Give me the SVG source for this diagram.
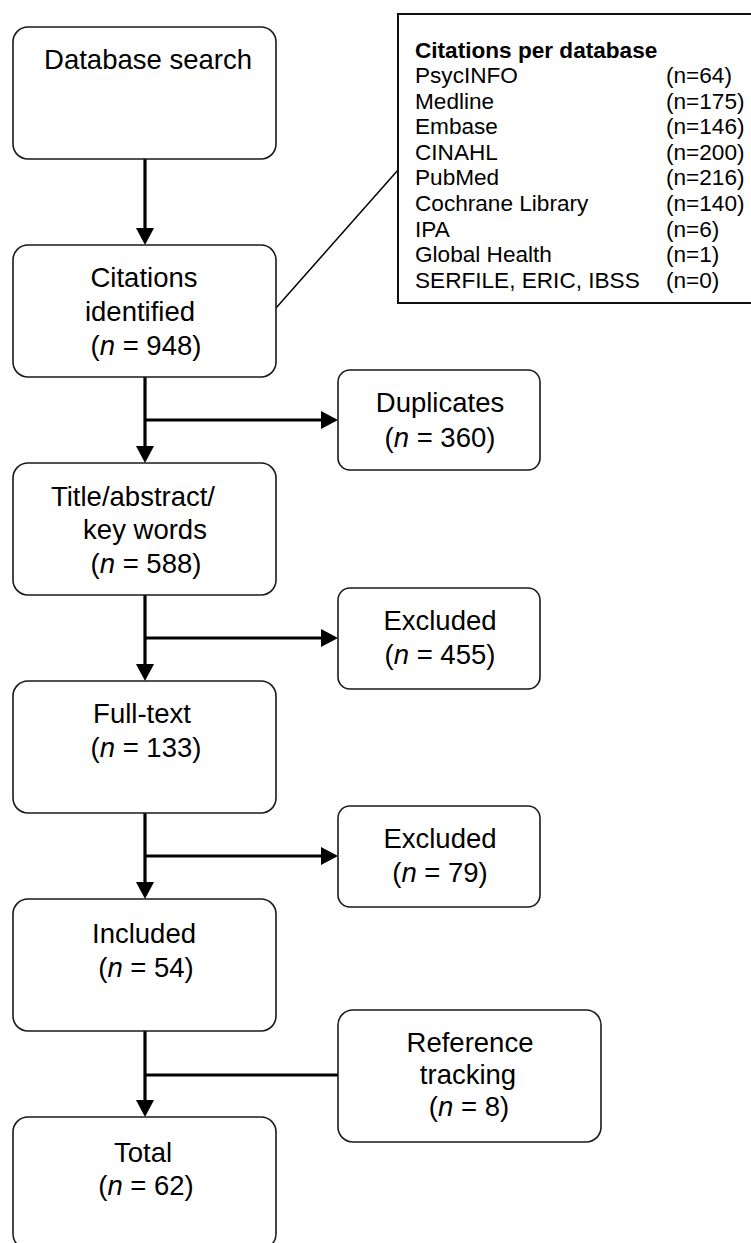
<svg xmlns="http://www.w3.org/2000/svg" width="751" height="1243" viewBox="0 0 751 1243">
<style>
text{font-family:"Liberation Sans",Arial,sans-serif;fill:#000}
.t{font-size:27.5px;text-anchor:middle}
.l{font-size:22.6px}
.b{font-weight:bold}
.box{fill:#fff;stroke:#1a1a1a;stroke-width:1.6}
.c{fill:none;stroke:#000;stroke-width:3.2}
.thin{fill:none;stroke:#000;stroke-width:1.5}
</style>
<defs>
<marker id="ah" markerUnits="userSpaceOnUse" markerWidth="18" markerHeight="18" refX="1" refY="9" orient="auto">
<path d="M0,0 L17,9 L0,18 z" fill="#000"/>
</marker>
</defs>
<g id="connectors">
<line class="thin" x1="276" y1="308" x2="398" y2="170"/>
<line class="c" x1="145" y1="159" x2="145" y2="229" marker-end="url(#ah)"/>
<line class="c" x1="145" y1="377" x2="145" y2="447" marker-end="url(#ah)"/>
<line class="c" x1="145" y1="595" x2="145" y2="665" marker-end="url(#ah)"/>
<line class="c" x1="145" y1="813" x2="145" y2="883" marker-end="url(#ah)"/>
<line class="c" x1="145" y1="1031" x2="145" y2="1101" marker-end="url(#ah)"/>
<line class="c" x1="145" y1="420" x2="322" y2="420" marker-end="url(#ah)"/>
<line class="c" x1="145" y1="638" x2="322" y2="638" marker-end="url(#ah)"/>
<line class="c" x1="145" y1="856" x2="322" y2="856" marker-end="url(#ah)"/>
<line class="c" x1="145" y1="1075" x2="338" y2="1075"/>
</g>
<g id="database-search">
<rect class="box" x="13" y="27" width="263" height="132" rx="15"/>
<text class="t" x="148" y="69">Database search</text>
</g>
<g id="citations-identified">
<rect class="box" x="13" y="245" width="263" height="132" rx="15"/>
<text class="t" x="144" y="287">Citations</text>
<text class="t" x="140" y="321">identified</text>
<text class="t" x="146" y="355">(<tspan font-style="italic">n</tspan> = 948)</text>
</g>
<g id="citations-per-database">
<rect x="398" y="14" width="360" height="289" fill="#fff" stroke="#111" stroke-width="2"/>
<text class="l b" x="415" y="58">Citations per database</text>
<text class="l" x="415" y="83">PsycINFO</text><text class="l" x="666" y="83">(n=64)</text>
<text class="l" x="415" y="108.6">Medline</text><text class="l" x="666" y="108.6">(n=175)</text>
<text class="l" x="415" y="134.2">Embase</text><text class="l" x="666" y="134.2">(n=146)</text>
<text class="l" x="415" y="159.8">CINAHL</text><text class="l" x="666" y="159.8">(n=200)</text>
<text class="l" x="415" y="185.4">PubMed</text><text class="l" x="666" y="185.4">(n=216)</text>
<text class="l" x="415" y="211">Cochrane Library</text><text class="l" x="666" y="211">(n=140)</text>
<text class="l" x="415" y="236.6">IPA</text><text class="l" x="666" y="236.6">(n=6)</text>
<text class="l" x="415" y="262.2">Global Health</text><text class="l" x="666" y="262.2">(n=1)</text>
<text class="l" x="415" y="287.8">SERFILE, ERIC, IBSS</text><text class="l" x="666" y="287.8">(n=0)</text>
</g>
<g id="duplicates">
<rect class="box" x="338" y="370" width="202" height="100" rx="12"/>
<text class="t" x="440" y="412">Duplicates</text>
<text class="t" x="440" y="447">(<tspan font-style="italic">n</tspan> = 360)</text>
</g>
<g id="title-abstract">
<rect class="box" x="13" y="463" width="263" height="132" rx="15"/>
<text class="t" x="133" y="506">Title/abstract/</text>
<text class="t" x="145" y="539">key words</text>
<text class="t" x="146" y="573">(<tspan font-style="italic">n</tspan> = 588)</text>
</g>
<g id="excluded-455">
<rect class="box" x="338" y="588" width="202" height="101" rx="12"/>
<text class="t" x="440" y="630">Excluded</text>
<text class="t" x="440" y="664">(<tspan font-style="italic">n</tspan> = 455)</text>
</g>
<g id="full-text">
<rect class="box" x="13" y="681" width="263" height="132" rx="15"/>
<text class="t" x="142" y="723">Full-text</text>
<text class="t" x="146" y="757">(<tspan font-style="italic">n</tspan> = 133)</text>
</g>
<g id="excluded-79">
<rect class="box" x="338" y="806" width="202" height="101" rx="12"/>
<text class="t" x="440" y="848">Excluded</text>
<text class="t" x="440" y="882">(<tspan font-style="italic">n</tspan> = 79)</text>
</g>
<g id="included">
<rect class="box" x="13" y="899" width="263" height="132" rx="15"/>
<text class="t" x="144" y="943">Included</text>
<text class="t" x="146" y="977">(<tspan font-style="italic">n</tspan> = 54)</text>
</g>
<g id="reference-tracking">
<rect class="box" x="338" y="1010" width="263" height="132" rx="15"/>
<text class="t" x="470" y="1052">Reference</text>
<text class="t" x="468" y="1084">tracking</text>
<text class="t" x="469" y="1116">(<tspan font-style="italic">n</tspan> = 8)</text>
</g>
<g id="total">
<rect class="box" x="13" y="1117" width="263" height="132" rx="15"/>
<text class="t" x="143" y="1162">Total</text>
<text class="t" x="146" y="1195">(<tspan font-style="italic">n</tspan> = 62)</text>
</g>
</svg>
